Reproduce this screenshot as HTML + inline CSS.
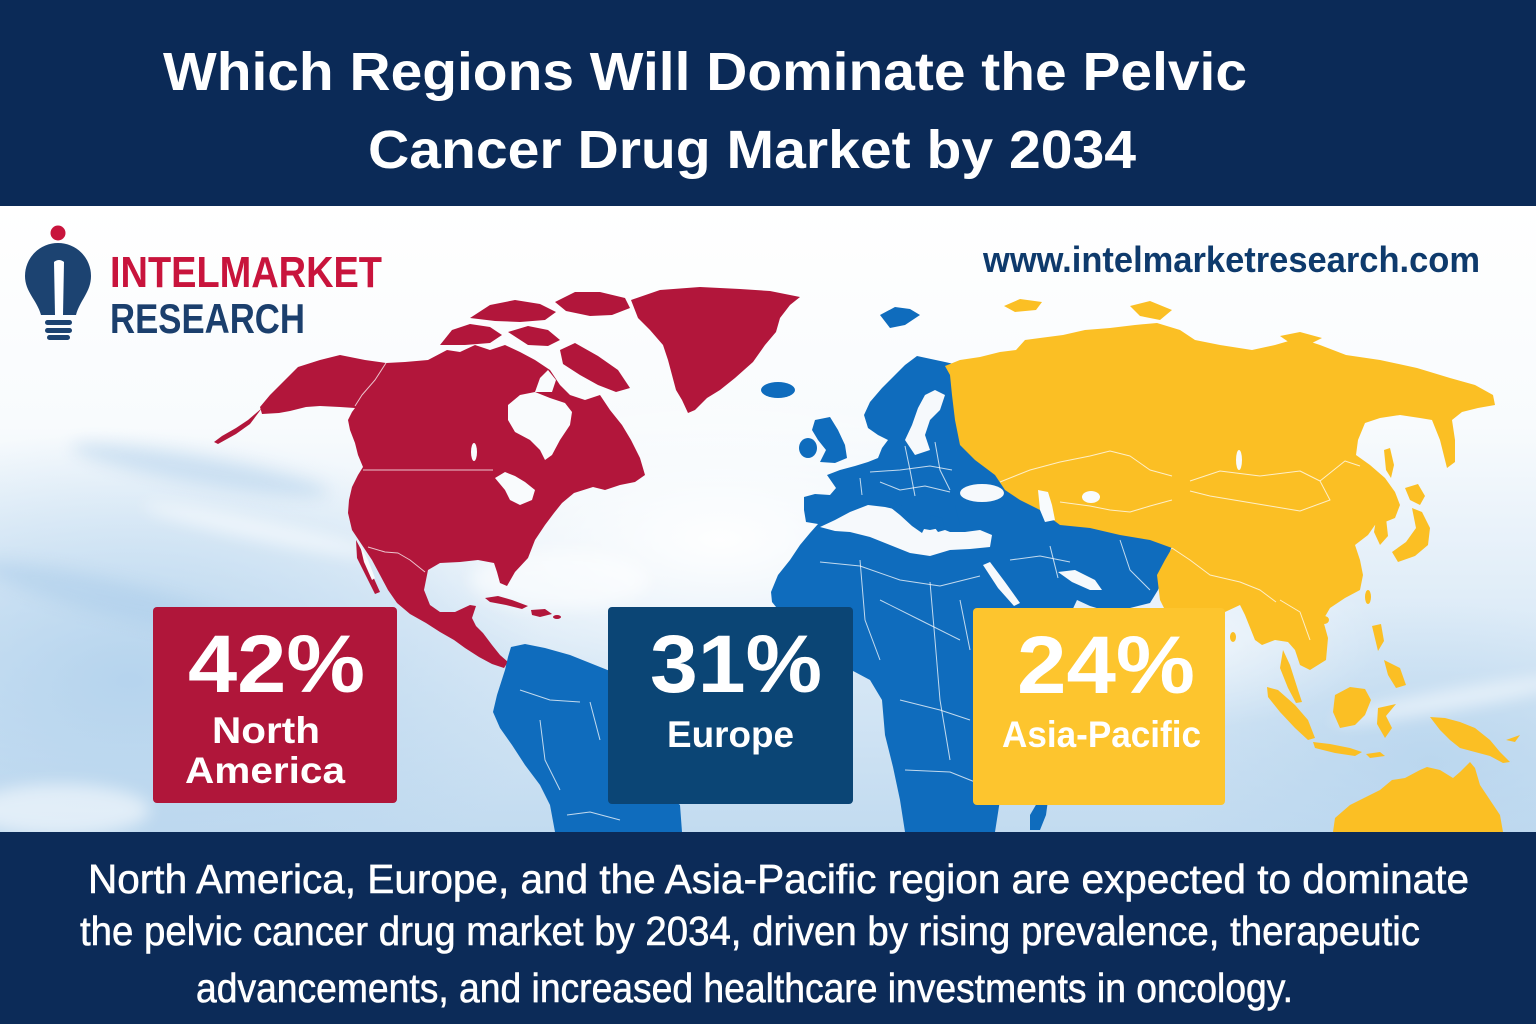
<!DOCTYPE html>
<html>
<head>
<meta charset="utf-8">
<style>
html,body{margin:0;padding:0;width:1536px;height:1024px;overflow:hidden;background:#fff;}
svg{display:block;}
text{font-family:"Liberation Sans",Arial,sans-serif;}
</style>
</head>
<body>
<svg width="1536" height="1024" viewBox="0 0 1536 1024" xmlns="http://www.w3.org/2000/svg">
<defs>
  <linearGradient id="sky" x1="0" y1="0" x2="0" y2="1">
    <stop offset="0" stop-color="#ffffff"/>
    <stop offset="0.35" stop-color="#f8fbfd"/>
    <stop offset="0.62" stop-color="#e0edf8"/>
    <stop offset="1" stop-color="#c2dbf0"/>
  </linearGradient>
  <radialGradient id="blueL" cx="0.5" cy="0.5" r="0.5">
    <stop offset="0" stop-color="#b4d3ed" stop-opacity="0.95"/>
    <stop offset="1" stop-color="#b4d3ed" stop-opacity="0"/>
  </radialGradient>
  <radialGradient id="whiteB" cx="0.5" cy="0.5" r="0.5">
    <stop offset="0" stop-color="#ffffff" stop-opacity="0.95"/>
    <stop offset="1" stop-color="#ffffff" stop-opacity="0"/>
  </radialGradient>
  <filter id="blur8" x="-20%" y="-50%" width="140%" height="200%"><feGaussianBlur stdDeviation="8"/></filter>
</defs>

<!-- Sky background -->
<rect x="0" y="206" width="1536" height="626" fill="url(#sky)"/>
<ellipse cx="130" cy="680" rx="420" ry="250" fill="url(#blueL)"/>
<ellipse cx="1430" cy="760" rx="280" ry="160" fill="url(#blueL)" opacity="0.75"/>
<ellipse cx="720" cy="540" rx="330" ry="150" fill="url(#whiteB)"/>
<ellipse cx="1180" cy="640" rx="200" ry="90" fill="url(#whiteB)" opacity="0.6"/>
<g filter="url(#blur8)" fill="#ffffff" opacity="0.55">
  <ellipse cx="60" cy="810" rx="90" ry="26"/>
  <ellipse cx="260" cy="530" rx="120" ry="10" transform="rotate(12 260 530)"/>
  <ellipse cx="1450" cy="700" rx="120" ry="10" transform="rotate(-10 1450 700)"/>
  <ellipse cx="560" cy="580" rx="90" ry="30"/>
</g>
<g filter="url(#blur8)" fill="#a9cbe9" opacity="0.45">
  <ellipse cx="200" cy="470" rx="130" ry="14" transform="rotate(10 200 470)"/>
  <ellipse cx="120" cy="600" rx="140" ry="18" transform="rotate(14 120 600)"/>
</g>

<!-- Header -->
<rect x="0" y="0" width="1536" height="206" fill="#0b2a57"/>
<text x="163" y="90" font-size="54" font-weight="bold" fill="#ffffff" textLength="1084" lengthAdjust="spacingAndGlyphs">Which Regions Will Dominate the Pelvic</text>
<text x="368" y="168" font-size="54" font-weight="bold" fill="#ffffff" textLength="768" lengthAdjust="spacingAndGlyphs">Cancer Drug Market by 2034</text>

<!-- ===== MAP ===== -->
<g fill="#b2163b">
  <path d="M260,407 L270,395 L285,380 L298,367 L320,360 L340,355 L365,360 L386,363 L405,362 L428,360 L447,350 L460,352 L475,345 L490,350 L505,345 L520,352 L535,360 L550,370 L560,385 L570,395 L585,400 L600,395 L610,410 L622,425 L631,440 L640,458 L645,475 L635,482 L620,485 L605,490 L593,487 L574,493 L562,503 L554,513 L545,525 L535,540 L528,558 L515,572 L507,586 L500,583 L497,572 L494,563 L478,560 L460,562 L440,563 L428,570 L424,590 L430,605 L440,612 L455,612 L470,605 L476,606 L472,618 L476,626 L483,633 L492,645 L500,655 L508,662 L504,668 L492,664 L479,657 L465,648 L454,640 L440,632 L426,623 L410,614 L397,603 L388,590 L380,575 L372,560 L362,545 L352,530 L348,513 L349,500 L352,487 L358,475 L363,467 L358,455 L355,443 L350,430 L348,420 L352,412 L355,408 L340,407 L320,406 L306,407 L290,411 L279,413 L262,414 Z"/>
  <path d="M356,540 L364,555 L371,572 L380,592 L375,594 L366,576 L357,558 Z"/>
  <path d="M262,408 L248,420 L236,428 L222,436 L214,442 L218,444 L236,434 L250,424 Z"/>
  <path d="M440,345 L452,330 L470,324 L490,327 L502,335 L490,343 L465,345 Z"/>
  <path d="M470,318 L490,305 L515,300 L540,304 L556,312 L545,320 L520,322 L495,321 Z"/>
  <path d="M555,302 L575,292 L600,292 L625,298 L630,308 L612,315 L590,316 L566,311 Z"/>
  <path d="M508,332 L528,326 L548,330 L560,340 L548,346 L528,345 Z"/>
  <path d="M560,350 L575,343 L598,356 L618,370 L630,388 L616,392 L598,385 L580,375 L563,364 Z"/>
  <path d="M631,300 L660,290 L700,287 L740,289 L770,291 L800,297 L790,305 L780,318 L776,332 L765,345 L753,362 L735,378 L720,390 L707,398 L695,410 L688,413 L682,400 L676,390 L672,375 L668,360 L663,345 L650,330 L638,318 Z"/>
  <path d="M485,598 L498,596 L512,600 L528,606 L522,609 L506,605 L490,602 Z"/>
  <path d="M531,610 L545,609 L552,614 L540,617 L532,615 Z"/>
  <ellipse cx="557" cy="617" rx="4" ry="2"/>
</g>
<g fill="#f9fbfd">
  <path d="M508,405 L520,395 L535,392 L550,398 L565,403 L572,412 L570,425 L560,440 L552,455 L545,460 L540,450 L530,440 L515,432 L508,420 Z"/>
  <path d="M535,392 L540,378 L548,370 L556,380 L552,392 Z"/>
  <path d="M495,478 L505,472 L515,476 L525,482 L535,490 L532,500 L520,505 L510,500 L505,490 Z"/>
  <ellipse cx="474" cy="452" rx="3" ry="9"/>
  <path d="M360,545 L368,560 L375,578 L372,580 L364,562 Z"/>
</g>

<g fill="#0f6cbd">
  <path d="M917,356 L945,362 L990,372 L1000,470 L1040,505 L1080,525 L1120,530 L1150,528 L1172,545 L1165,570 L1158,590 L1150,603 L1130,608 L1110,612 L1090,606 L1077,600 L1070,615 L1060,640 L1045,670 L1035,700 L1020,740 L1010,770 L1000,800 L995,832 L905,832 L900,800 L893,767 L885,735 L882,700 L870,680 L855,672 L835,662 L818,648 L800,632 L785,618 L772,602 L771,592 L778,575 L790,560 L800,545 L810,533 L818,524 L806,522 L804,510 L804,497 L815,494 L830,495 L836,488 L827,475 L840,470 L855,466 L868,462 L878,458 L882,448 L888,440 L878,435 L868,428 L864,415 L870,402 L882,388 L895,375 L905,365 Z"/>
  <path d="M815,420 L830,417 L838,430 L845,445 L847,458 L835,463 L820,462 L826,450 L818,440 L812,430 Z"/>
  <ellipse cx="808" cy="448" rx="9" ry="10"/>
  <ellipse cx="778" cy="390" rx="17" ry="8"/>
  <path d="M880,315 L895,307 L910,309 L920,315 L905,325 L890,328 Z"/>
  <path d="M511,647 L525,644 L545,648 L570,655 L595,665 L620,675 L640,690 L660,700 L665,720 L655,745 L640,770 L660,790 L680,805 L682,832 L555,832 L550,805 L540,785 L525,765 L512,745 L500,728 L493,712 L497,695 L505,670 L508,657 Z"/>
  <path d="M1040,798 L1048,800 L1046,815 L1040,830 L1030,830 L1030,815 Z"/>
</g>
<g fill="#f6f9fc">
  <path d="M820,527 L835,520 L850,512 L868,505 L885,507 L898,510 L908,520 L918,528 L930,530 L940,528 L950,532 L965,532 L980,530 L992,535 L990,547 L970,549 L950,550 L930,556 L910,553 L890,545 L870,537 L850,532 L835,531 Z"/>
  <ellipse cx="982" cy="493" rx="22" ry="9"/>
  <path d="M905,440 L912,425 L918,408 L925,395 L935,390 L945,395 L940,410 L930,420 L925,435 L930,450 L915,455 Z"/>
  <path d="M983,565 L990,562 L1005,582 L1020,603 L1014,606 L998,588 Z"/>
  <path d="M1058,572 L1075,570 L1095,580 L1102,590 L1090,590 L1072,582 Z"/>
</g>
<g fill="#0f6cbd">
  <path d="M893,502 L903,506 L913,516 L925,527 L922,533 L912,526 L900,515 L890,507 Z"/>
  <path d="M930,515 L942,518 L945,530 L938,532 L932,524 Z"/>
  <path d="M955,505 L1000,505 L1010,515 L995,525 L960,525 Z"/>
</g>

<g fill="#fbbf24">
  <path d="M945,366 L960,360 L980,357 L1000,352 L1016,350 L1025,340 L1040,338 L1063,335 L1085,330 L1110,328 L1135,325 L1157,323 L1180,330 L1195,340 L1220,345 L1252,350 L1275,345 L1299,338 L1320,345 L1346,355 L1380,360 L1417,368 L1450,378 L1475,385 L1493,395 L1495,405 L1478,408 L1462,412 L1452,420 L1455,440 L1455,462 L1447,468 L1440,440 L1432,420 L1420,418 L1400,415 L1380,418 L1365,423 L1358,440 L1356,455 L1370,465 L1385,478 L1395,492 L1400,505 L1395,518 L1385,522 L1375,525 L1368,535 L1355,545 L1360,560 L1363,575 L1360,590 L1345,598 L1330,608 L1323,620 L1328,638 L1326,660 L1310,670 L1300,665 L1295,650 L1288,642 L1275,640 L1262,645 L1255,640 L1245,615 L1240,605 L1225,612 L1190,640 L1170,620 L1160,600 L1157,575 L1165,560 L1172,548 L1150,540 L1120,535 L1090,528 L1060,525 L1040,510 L1020,500 L1005,490 L995,475 L975,460 L960,445 L955,420 L952,395 L950,375 Z"/>
  <path d="M1004,306 L1020,299 L1042,302 L1036,310 L1015,312 Z"/>
  <path d="M1130,306 L1150,301 L1172,310 L1160,320 L1140,316 Z"/>
  <path d="M1280,336 L1300,332 L1322,338 L1310,344 L1290,343 Z"/>
  <path d="M1384,450 L1390,448 L1394,465 L1391,478 L1386,470 Z"/>
  <path d="M1405,488 L1418,484 L1425,496 L1420,505 L1410,500 Z"/>
  <path d="M1412,508 L1422,512 L1430,528 L1428,545 L1415,556 L1398,562 L1392,552 L1406,542 L1416,528 Z"/>
  <path d="M1376,520 L1386,518 L1388,536 L1380,545 L1374,532 Z"/>
  <ellipse cx="1368" cy="597" rx="3" ry="7"/>
  <ellipse cx="1324" cy="620" rx="5" ry="4"/>
  <ellipse cx="1233" cy="637" rx="3" ry="5"/>
  <path d="M1283,650 L1290,665 L1298,690 L1302,702 L1296,703 L1288,688 L1280,668 Z"/>
  <path d="M1267,687 L1278,690 L1295,705 L1308,720 L1315,738 L1308,740 L1295,728 L1280,712 L1268,697 Z"/>
  <path d="M1313,742 L1330,744 L1350,748 L1362,752 L1355,756 L1335,753 L1315,748 Z"/>
  <path d="M1366,754 L1380,752 L1385,756 L1370,758 Z"/>
  <path d="M1335,695 L1350,687 L1365,689 L1371,700 L1365,715 L1355,725 L1340,728 L1333,712 Z"/>
  <path d="M1378,708 L1396,704 L1386,716 L1392,728 L1385,738 L1377,724 Z"/>
  <path d="M1372,626 L1381,624 L1384,641 L1378,651 Z"/>
  <path d="M1384,660 L1400,668 L1406,685 L1396,688 L1388,675 Z"/>
  <path d="M1430,717 L1445,718 L1460,722 L1475,728 L1490,740 L1500,752 L1510,762 L1503,763 L1490,756 L1475,752 L1460,748 L1450,740 L1440,730 Z"/>
  <path d="M1506,740 L1520,735 L1515,742 Z"/>
  <path d="M1333,832 L1335,818 L1350,805 L1370,795 L1380,790 L1392,780 L1405,778 L1420,770 L1427,767 L1440,770 L1453,778 L1460,772 L1470,762 L1475,768 L1480,785 L1490,800 L1500,815 L1503,832 Z"/>
</g>
<g fill="#f8fbfd">
  <path d="M1038,490 L1048,492 L1052,505 L1055,520 L1045,522 L1040,510 Z"/>
  <ellipse cx="1091" cy="497" rx="9" ry="6"/>
  <ellipse cx="1239" cy="460" rx="3" ry="10"/>
</g>

<g fill="none" stroke="#ffffff" stroke-width="1" stroke-opacity="0.75" stroke-linejoin="round">
  <path d="M363,470 L493,470"/>
  <path d="M386,363 L375,380 L362,395 L355,406"/>
  <path d="M368,547 L385,552 L398,553 L410,560 L425,572"/>
  <path d="M870,472 L900,470 L930,466 L952,470"/>
  <path d="M880,482 L900,490 L925,486 L950,492"/>
  <path d="M905,446 L910,470 L915,496"/>
  <path d="M935,442 L940,470 L950,490"/>
  <path d="M860,478 L862,495"/>
  <path d="M820,562 L860,566 L900,580 L940,586 L980,576"/>
  <path d="M880,600 L920,620 L960,640"/>
  <path d="M860,560 L865,620 L880,660"/>
  <path d="M930,582 L935,640 L940,700 L950,760"/>
  <path d="M900,700 L940,710 L970,720"/>
  <path d="M960,600 L970,650"/>
  <path d="M905,770 L950,772 L975,782"/>
  <path d="M1010,560 L1040,556 L1070,562"/>
  <path d="M1050,546 L1058,578"/>
  <path d="M1120,540 L1130,570 L1150,590"/>
  <path d="M1000,482 L1030,470 L1060,462 L1090,456 L1110,451 L1130,456 L1150,470 L1172,476"/>
  <path d="M1190,481 L1220,471 L1260,476 L1300,471 L1320,481 L1330,500 L1300,511 L1270,506 L1240,501 L1210,496 L1190,491"/>
  <path d="M1320,481 L1345,461 L1360,466"/>
  <path d="M1060,502 L1090,506 L1110,510 L1130,512 L1150,506 L1172,500"/>
  <path d="M1172,548 L1190,560 L1210,575 L1240,582 L1260,590 L1276,602"/>
  <path d="M1280,600 L1300,612 L1310,640"/>
  <path d="M520,690 L550,700 L580,702"/>
  <path d="M540,720 L545,760 L560,790"/>
  <path d="M590,702 L600,740"/>
  <path d="M567,815 L590,812 L620,820"/>
</g>

<!-- Logo -->
<circle cx="58" cy="233" r="7.5" fill="#c8143c"/>
<path d="M58,243 A33,33 0 0 1 91,276 C91,292 80,300 76,315 L41,315 C37,300 25,292 25,276 A33,33 0 0 1 58,243 Z" fill="#1c4371"/>
<path d="M54,262 Q59,258 64,262 L63,315 L55,315 Z" fill="#ffffff"/>
<rect x="45" y="320" width="27" height="5" rx="2.5" fill="#1c4371"/>
<rect x="45" y="328" width="27" height="5" rx="2.5" fill="#1c4371"/>
<rect x="47" y="335" width="23" height="5" rx="2.5" fill="#1c4371"/>
<text x="110" y="287" font-size="44" font-weight="bold" fill="#c8143c" textLength="272" lengthAdjust="spacingAndGlyphs">INTELMARKET</text>
<text x="110" y="333" font-size="42" font-weight="bold" fill="#1b3f6d" textLength="195" lengthAdjust="spacingAndGlyphs">RESEARCH</text>

<text x="983" y="272" font-size="36" font-weight="bold" fill="#0e3a6c" textLength="497" lengthAdjust="spacingAndGlyphs">www.intelmarketresearch.com</text>

<rect x="153" y="607" width="244" height="196" rx="4" fill="#b0163a"/>
<text x="188" y="692" font-size="82" font-weight="bold" fill="#ffffff" textLength="177" lengthAdjust="spacingAndGlyphs">42%</text>
<text x="212" y="743" font-size="37" font-weight="bold" fill="#ffffff" textLength="108" lengthAdjust="spacingAndGlyphs">North</text>
<text x="185" y="783" font-size="37" font-weight="bold" fill="#ffffff" textLength="160" lengthAdjust="spacingAndGlyphs">America</text>

<rect x="608" y="607" width="245" height="197" rx="4" fill="#0b4575"/>
<text x="650" y="692" font-size="82" font-weight="bold" fill="#ffffff" textLength="172" lengthAdjust="spacingAndGlyphs">31%</text>
<text x="667" y="747" font-size="37" font-weight="bold" fill="#ffffff" textLength="127" lengthAdjust="spacingAndGlyphs">Europe</text>

<rect x="973" y="608" width="252" height="197" rx="4" fill="#fdc52e"/>
<text x="1017" y="693" font-size="82" font-weight="bold" fill="#ffffff" textLength="178" lengthAdjust="spacingAndGlyphs">24%</text>
<text x="1002" y="747" font-size="37" font-weight="bold" fill="#ffffff" textLength="199" lengthAdjust="spacingAndGlyphs">Asia-Pacific</text>

<rect x="0" y="832" width="1536" height="192" fill="#0c2b58"/>
<g fill="#ffffff" stroke="#ffffff" stroke-width="0.6" font-size="41">
  <text x="88" y="893" textLength="1381" lengthAdjust="spacingAndGlyphs">North America, Europe, and the Asia-Pacific region are expected to dominate</text>
  <text x="80" y="945" textLength="1340" lengthAdjust="spacingAndGlyphs">the pelvic cancer drug market by 2034, driven by rising prevalence, therapeutic</text>
  <text x="196" y="1002" textLength="1097" lengthAdjust="spacingAndGlyphs">advancements, and increased healthcare investments in oncology.</text>
</g>
</svg>
</body>
</html>
